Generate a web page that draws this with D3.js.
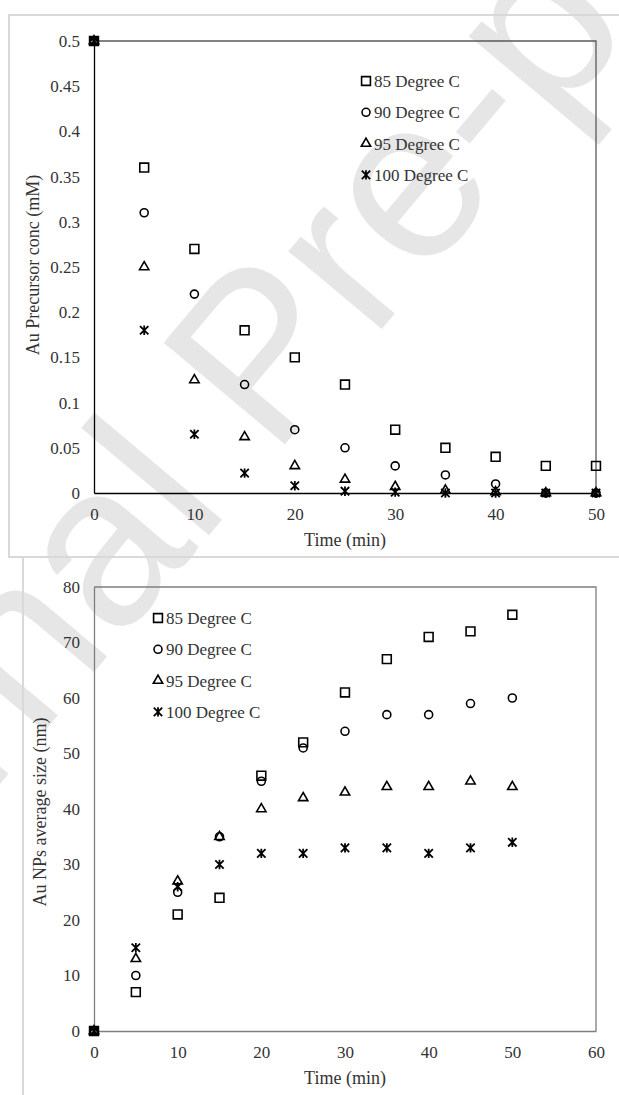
<!DOCTYPE html>
<html>
<head>
<meta charset="utf-8">
<script src="https://cdn.jsdelivr.net/npm/d3@7"></script>
<style>
  html, body { margin: 0; padding: 0; background: #fff; }
  svg { display: block; }
</style>
</head>
<body>
<div id="chart"></div>
<script>
// sampling times (min), shared by both panels
const time = [0, 5, 10, 15, 20, 25, 30, 35, 40, 45, 50];

const seriesNames = ["85 Degree C", "90 Degree C", "95 Degree C", "100 Degree C"];
const markerTypes = ["square", "circle", "triangle", "star"];

// top panel: Au precursor concentration (mM)
const conc85 = [0.5, 0.36, 0.27, 0.18, 0.15, 0.12, 0.07, 0.05, 0.04, 0.03, 0.03];
const conc90 = [0.5, 0.31, 0.22, 0.12, 0.07, 0.05, 0.03, 0.02, 0.01, 0, 0];
const conc95 = [0.5, 0.25, 0.125, 0.062, 0.03, 0.015, 0.007, 0.003, 0.001, 0, 0];
const conc100 = [0.5, 0.18, 0.065, 0.022, 0.008, 0.002, 0.001, 0, 0, 0, 0];

// bottom panel: Au NPs average size (nm)
const size85 = [0, 7, 21, 24, 46, 52, 61, 67, 71, 72, 75];
const size90 = [0, 10, 25, 35, 45, 51, 54, 57, 57, 59, 60];
const size95 = [0, 13, 27, 35, 40, 42, 43, 44, 44, 45, 44];
const size100 = [0, 15, 26, 30, 32, 32, 33, 33, 32, 33, 34];

const concTicks = [0, 0.05, 0.1, 0.15, 0.2, 0.25, 0.3, 0.35, 0.4, 0.45, 0.5];
const concTimeTicks = [0, 10, 20, 30, 40, 50];
const sizeTicks = [0, 10, 20, 30, 40, 50, 60, 70, 80];
const sizeTimeTicks = [0, 10, 20, 30, 40, 50, 60];

const W = 619, H = 1095;
const serif = 'Liberation Serif, Times New Roman, serif';

const svg = d3.select('#chart').append('svg')
  .attr('width', W)
  .attr('height', H)
  .attr('font-family', serif)
  .style('background', '#fff');

// watermark behind everything
svg.append('text')
  .attr('transform', 'translate(318,405) rotate(-50)')
  .attr('text-anchor', 'middle')
  .attr('font-family', 'Liberation Sans, Arial, sans-serif')
  .style('font-size', '230px')
  .style('fill', '#e6e6e6')
  .text('Journal Pre-proof');

// outer chart frames (light grey)
svg.append('rect')
  .attr('x', 9).attr('y', 15).attr('width', 640).attr('height', 542)
  .attr('fill', 'none').attr('stroke', '#d9d9d9').attr('stroke-width', 2);
svg.append('path')
  .attr('d', 'M23,1100V557H640')
  .attr('fill', 'none').attr('stroke', '#d9d9d9').attr('stroke-width', 2);

// custom star (asterisk) marker like Excel's
function markerPath(type) {
  if (type === 'star') {
    const r = 4.2;
    return `M${-r},${-r}L${r},${r}M${-r},${r}L${r},${-r}M0,${-r - 0.5}L0,${r + 0.5}`;
  }
  const sym = { square: d3.symbolSquare, circle: d3.symbolCircle, triangle: d3.symbolTriangle }[type];
  const size = { square: 78, circle: 50, triangle: 38 }[type];
  return d3.symbol(sym, size)();
}

function panel(opt) {
  const x = d3.scaleLinear().domain(opt.xDomain).range([94, 596]);
  const y = d3.scaleLinear().domain(opt.yDomain).range([opt.bottom, opt.top]);
  const g = svg.append('g');

  // plot area border
  g.append('path')
    .attr('d', `M${x.range()[0]},${opt.top}H${x.range()[1]}V${opt.bottom}`)
    .attr('fill', 'none').attr('stroke', opt.borderColor).attr('stroke-width', 1.3);

  const xAxis = g.append('g')
    .attr('transform', `translate(0,${opt.bottom})`)
    .call(d3.axisBottom(x).tickValues(opt.xTicks).tickSize(0).tickPadding(15).tickFormat(d3.format('d')));
  const yAxis = g.append('g')
    .attr('transform', `translate(${x.range()[0]},0)`)
    .call(d3.axisLeft(y).tickValues(opt.yTicks).tickSize(0).tickPadding(14).tickFormat(opt.yFormat));

  [xAxis, yAxis].forEach(ax => {
    ax.attr('font-family', serif).attr('font-size', 17);
    ax.select('.domain').attr('stroke', opt.axisColor).attr('stroke-width', 1.3);
    ax.selectAll('text').attr('fill', '#333');
  });

  // axis titles
  g.append('text')
    .attr('x', (x.range()[0] + x.range()[1]) / 2)
    .attr('y', opt.xTitleY)
    .attr('text-anchor', 'middle')
    .attr('dy', '0.35em')
    .attr('font-size', 18).attr('fill', '#333')
    .text('Time (min)');
  g.append('text')
    .attr('transform', `translate(${opt.yTitleX},${opt.yTitleY}) rotate(-90)`)
    .attr('text-anchor', 'middle')
    .attr('dy', '0.35em')
    .attr('font-size', 18).attr('fill', '#333')
    .text(opt.yTitle);

  // points
  opt.series.forEach((vals, i) => {
    g.append('g')
      .selectAll('path')
      .data(time.map((t, j) => [t, vals[j]]))
      .join('path')
      .attr('transform', d => `translate(${x(d[0])},${y(d[1])})`)
      .attr('d', markerPath(markerTypes[i]))
      .attr('fill', 'none')
      .attr('stroke', '#000')
      .attr('stroke-width', markerTypes[i] === 'star' ? 1.8 : 1.6);
  });

  // legend
  const leg = g.append('g');
  seriesNames.forEach((name, i) => {
    const ly = opt.legendY + i * opt.legendStep;
    leg.append('path')
      .attr('transform', `translate(${opt.legendX},${ly})`)
      .attr('d', markerPath(markerTypes[i]))
      .attr('fill', 'none').attr('stroke', '#000')
      .attr('stroke-width', markerTypes[i] === 'star' ? 1.8 : 1.6);
    leg.append('text')
      .attr('x', opt.legendX + 8)
      .attr('y', ly)
      .attr('dy', '0.35em')
      .attr('font-size', 17).attr('fill', '#333')
      .text(name);
  });
}

panel({
  xDomain: [0, 50], yDomain: [0, 0.5], top: 41, bottom: 493,
  xTicks: concTimeTicks, yTicks: concTicks,
  yFormat: d => String(+d.toFixed(2)),
  series: [conc85, conc90, conc95, conc100],
  axisColor: '#000', borderColor: '#595959',
  xTitleY: 540, yTitleX: 33, yTitleY: 265,
  yTitle: 'Au Precursor conc (mM)',
  legendX: 366, legendY: 81, legendStep: 31.3
});

panel({
  xDomain: [0, 60], yDomain: [0, 80], top: 587, bottom: 1031,
  xTicks: sizeTimeTicks, yTicks: sizeTicks,
  yFormat: d3.format('d'),
  series: [size85, size90, size95, size100],
  axisColor: '#7f7f7f', borderColor: '#7f7f7f',
  xTitleY: 1078, yTitleX: 40, yTitleY: 812,
  yTitle: 'Au NPs average size (nm)',
  legendX: 158, legendY: 618, legendStep: 31.3
});
</script>
</body>
</html>
